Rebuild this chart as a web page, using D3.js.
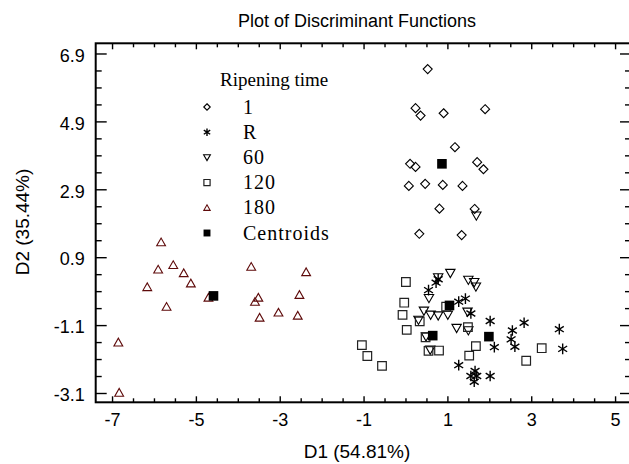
<!DOCTYPE html>
<html>
<head>
<meta charset="utf-8">
<script src="https://cdn.jsdelivr.net/npm/d3@7"></script>
<style>
  html, body { margin: 0; padding: 0; background: #fff; }
  svg { display: block; }
  text { fill: #000; }
</style>
</head>
<body>
<svg id="chart" width="629" height="464"></svg>
<script>
// ---------------- data ----------------
const groupNames = ["1", "R", "60", "120", "180", "Centroids"];

const d1_day1 = [0.53, 0.24, 0.36, 0.91, 1.90, 1.18, 0.11, 0.24, 1.71, 1.86, 0.08, 0.47, 0.89, 1.36, 0.81, 1.65, 0.33, 1.34];
const d2_day1 = [6.44, 5.29, 5.07, 5.14, 5.26, 4.14, 3.65, 3.56, 3.70, 3.49, 3.00, 3.06, 3.03, 3.00, 2.33, 2.32, 1.59, 1.55];

const d1_R = [0.78, 0.73, 0.55, 1.27, 1.43, 1.56, 2.02, 2.83, 2.55, 2.52, 2.61, 2.12, 3.67, 3.75, 1.27, 1.56, 1.70, 1.64, 2.02, 1.66];
const d2_R = [0.25, 0.15, -0.07, -0.41, -0.32, -0.76, -0.98, -1.03, -1.26, -1.52, -1.74, -1.75, -1.22, -1.80, -2.28, -2.60, -2.60, -2.77, -2.60, -2.45];

const d1_60 = [1.07, 0.78, 1.50, 1.64, 1.68, 0.56, 0.44, 0.60, 0.78, 1.01, 0.31, 1.48, 1.22, 1.50, 0.49, 0.59, 1.69];
const d2_60 = [0.43, 0.30, 0.23, 0.16, 0.03, -0.31, -0.68, -0.80, -0.82, -0.80, -0.95, -0.71, -1.19, -1.26, -1.44, -1.83, 2.12];

const d1_120 = [-1.04, -0.91, -0.56, 0.01, -0.03, -0.07, 0.03, 0.34, 0.48, 0.55, 0.80, 0.97, 1.49, 1.68, 1.52, 3.25, 2.88];
const d2_120 = [-1.69, -2.01, -2.30, 0.17, -0.44, -0.80, -1.24, -0.99, -1.46, -1.86, -1.85, -0.56, -1.16, -1.72, -2.00, -1.78, -2.15];

const d1_180 = [-5.83, -6.16, -5.90, -5.70, -5.54, -5.29, -5.12, -4.70, -3.68, -3.59, -3.51, -3.48, -3.03, -2.57, -2.53, -2.37, -6.85, -6.83];
const d2_180 = [1.34, 0.02, 0.54, -0.56, 0.67, 0.43, 0.13, -0.29, 0.62, -0.41, -0.29, -0.88, -0.73, -0.82, -0.21, 0.46, -1.61, -3.09];

const d1_centroids = [0.87, 1.99, 1.05, 0.65, -4.58];
const d2_centroids = [3.65, -1.44, -0.52, -1.41, -0.24];

const xTickValues = [-7, -5, -3, -1, 1, 3, 5];
const yTickValues = [-3.1, -1.1, 0.9, 2.9, 4.9, 6.9];
const xTickLabels = ["-7", "-5", "-3", "-1", "1", "3", "5"];
const yTickLabels = ["-3.1", "-1.1", "0.9", "2.9", "4.9", "6.9"];

const titleText = "Plot of Discriminant Functions";
const xTitle = "D1 (54.81%)";
const yTitle = "D2 (35.44%)";
const legendTitle = "Ripening time";

// ---------------- layout ----------------
const svg = d3.select("#chart");
const L = 95.7, R = 631, T = 43.3, B = 402.3;
const x = d3.scaleLinear().domain([-7.39, 5.38]).range([L, R]);
const y = d3.scaleLinear().domain([-3.374, 7.2]).range([B, T]);

const sansFont = "'Liberation Sans', Arial, Helvetica, sans-serif";
const serifFont = "'Liberation Serif', 'Times New Roman', serif";

// minor ticks every 0.5
const xMinor = d3.range(-7, 5.01, 0.5).map(v => +v.toFixed(2)).filter(v => !xTickValues.includes(v));
const yMinor = d3.range(-3.1, 6.91, 0.5).map(v => +v.toFixed(2)).filter(v => !yTickValues.includes(v));

function styleAxis(g) {
  g.select(".domain").remove();
  g.selectAll(".tick line").attr("stroke", "#000").attr("stroke-width", 1.4);
}

// bottom
svg.append("g").attr("transform", `translate(0,${B})`)
  .call(d3.axisBottom(x).tickValues(xMinor).tickSize(-4).tickFormat(""))
  .call(styleAxis);
const bx = svg.append("g").attr("transform", `translate(0,${B})`)
  .call(d3.axisBottom(x).tickValues(xTickValues).tickSize(-6).tickPadding(11)
    .tickFormat((d, i) => xTickLabels[i]))
  .call(styleAxis);
bx.selectAll("text").attr("font-family", sansFont).attr("font-size", 18).attr("fill", "#000");

// top
svg.append("g").attr("transform", `translate(0,${T})`)
  .call(d3.axisTop(x).tickValues(xMinor).tickSize(-4).tickFormat(""))
  .call(styleAxis);
svg.append("g").attr("transform", `translate(0,${T})`)
  .call(d3.axisTop(x).tickValues(xTickValues).tickSize(-6).tickFormat(""))
  .call(styleAxis);

// left
svg.append("g").attr("transform", `translate(${L},0)`)
  .call(d3.axisLeft(y).tickValues(yMinor).tickSize(-6).tickFormat(""))
  .call(styleAxis);
const ly = svg.append("g").attr("transform", `translate(${L},0)`)
  .call(d3.axisLeft(y).tickValues(yTickValues).tickSize(-11).tickPadding(11)
    .tickFormat((d, i) => yTickLabels[i]))
  .call(styleAxis);
ly.selectAll("text").attr("font-family", sansFont).attr("font-size", 18).attr("fill", "#000").attr("dy", "0.43em");

// right
svg.append("g").attr("transform", `translate(${R},0)`)
  .call(d3.axisRight(y).tickValues(yMinor).tickSize(-6).tickFormat(""))
  .call(styleAxis);
svg.append("g").attr("transform", `translate(${R},0)`)
  .call(d3.axisRight(y).tickValues(yTickValues).tickSize(-11).tickFormat(""))
  .call(styleAxis);

// frame
svg.append("rect").attr("x", L).attr("y", T).attr("width", R - L).attr("height", B - T)
  .attr("fill", "none").attr("stroke", "#000").attr("stroke-width", 2);

// titles
svg.append("text").attr("x", 357).attr("y", 27).attr("text-anchor", "middle")
  .attr("font-family", sansFont).attr("font-size", 18).text(titleText);
svg.append("text").attr("x", 357).attr("y", 458).attr("text-anchor", "middle")
  .attr("font-family", sansFont).attr("font-size", 19).text(xTitle);
svg.append("text").attr("transform", "translate(29,222) rotate(-90)").attr("text-anchor", "middle")
  .attr("font-family", sansFont).attr("font-size", 19).text(yTitle);

// ---------------- markers ----------------
const maroon = "#5e0a0a";
function markerPath(type, cx, cy, s) {
  const p = d3.path();
  if (type === "diamond") {
    p.moveTo(cx, cy - s); p.lineTo(cx + s, cy); p.lineTo(cx, cy + s); p.lineTo(cx - s, cy); p.closePath();
  } else if (type === "asterisk") {
    p.moveTo(cx, cy - s); p.lineTo(cx, cy + s);
    const dx = s * Math.cos(Math.PI / 5.5), dy = s * Math.sin(Math.PI / 5.5);
    p.moveTo(cx - dx, cy - dy); p.lineTo(cx + dx, cy + dy);
    p.moveTo(cx - dx, cy + dy); p.lineTo(cx + dx, cy - dy);
  } else if (type === "tridown") {
    p.moveTo(cx - s, cy - s * 0.8); p.lineTo(cx + s, cy - s * 0.8); p.lineTo(cx, cy + s * 0.95); p.closePath();
  } else if (type === "triup") {
    p.moveTo(cx - s, cy + s * 0.8); p.lineTo(cx + s, cy + s * 0.8); p.lineTo(cx, cy - s * 0.95); p.closePath();
  } else if (type === "square" || type === "filled") {
    p.rect(cx - s, cy - s, 2 * s, 2 * s);
  }
  return p.toString();
}

const groups = [
  { name: "1", d1: d1_day1, d2: d2_day1, type: "diamond", size: 4.5, stroke: "#000", fill: "none", sw: 1.1 },
  { name: "R", d1: d1_R, d2: d2_R, type: "asterisk", size: 5.3, stroke: "#000", fill: "none", sw: 1.4 },
  { name: "60", d1: d1_60, d2: d2_60, type: "tridown", size: 4.7, stroke: "#000", fill: "none", sw: 1.1 },
  { name: "120", d1: d1_120, d2: d2_120, type: "square", size: 4.3, stroke: "#222", fill: "none", sw: 1.2 },
  { name: "180", d1: d1_180, d2: d2_180, type: "triup", size: 4.4, stroke: maroon, fill: "none", sw: 1.1 },
  { name: "Centroids", d1: d1_centroids, d2: d2_centroids, type: "filled", size: 4.8, stroke: "none", fill: "#000", sw: 0 }
];

groups.forEach(g => {
  const pts = g.d1.map((v, i) => [v, g.d2[i]]);
  svg.append("g").selectAll("path").data(pts).join("path")
    .attr("d", d => markerPath(g.type, x(d[0]), y(d[1]), g.size))
    .attr("fill", g.fill).attr("stroke", g.stroke).attr("stroke-width", g.sw)
    .attr("stroke-linejoin", "miter");
});

// ---------------- legend ----------------
const legend = svg.append("g");
legend.append("text").attr("x", 220).attr("y", 86)
  .attr("font-family", serifFont).attr("font-size", 19).text(legendTitle);
groups.forEach((g, i) => {
  const cy = 107 + i * 25.2;
  legend.append("path").attr("d", markerPath(g.type, 207, cy, g.size * 0.72))
    .attr("fill", g.fill).attr("stroke", g.stroke).attr("stroke-width", g.sw);
  legend.append("text").attr("x", 243).attr("y", cy + 6.5)
    .attr("font-family", serifFont).attr("font-size", 20).attr("letter-spacing", 1)
    .text(groupNames[i]);
});
</script>
</body>
</html>
